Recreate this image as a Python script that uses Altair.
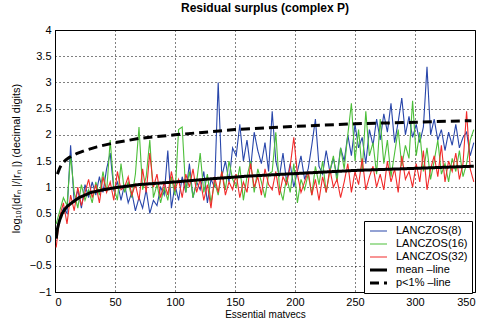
import altair as alt
import pandas as pd

# x grid for the noisy series
X_NOISY = list(range(1, 350, 3))

BLUE = [0.15, 0.35, 0.6, 0.5, 1.8, 0.7, 0.95, 0.6, 1.05, 0.8,
        1.1, 0.85, 1.2, 0.9, 1.35, 1.65, 0.95, 1.1, 0.75, 1.05,
        0.7, 0.9, 0.55, 0.8, 0.6, 0.95, 0.5, 0.75, 0.65, 1.0,
        0.85, 1.7, 0.6, 1.05, 0.75, 1.2, 0.9, 1.45, 0.8, 1.1,
        0.95, 1.3, 0.7, 1.15, 1.0, 3.0, 1.2, 1.5, 1.1, 1.75,
        1.6, 2.2, 1.5, 1.9, 1.35, 2.05, 1.7, 1.45, 1.85, 1.3,
        2.45, 1.5, 1.2, 1.65, 1.1, 1.45, 1.0, 1.3, 1.6, 1.15,
        1.35, 1.8, 2.3, 1.4, 1.25, 1.7, 1.3, 1.55, 1.2, 1.75,
        1.5, 2.0, 1.6, 2.2, 1.75, 1.95, 1.45, 2.1, 1.8, 2.3,
        1.9, 2.4, 2.05, 2.6, 1.85, 2.25, 2.7, 2.0, 2.35, 1.95,
        2.2, 1.85, 2.15, 3.3, 2.0, 2.3, 1.9, 2.1, 1.7, 2.05,
        1.8, 2.2, 1.75, 1.95, 2.05, 1.6, 1.85]

GREEN = [0.3, 0.55, 0.8, 0.65, 1.6, 0.9, 0.6, 1.05, 0.75, 0.95,
         0.7, 1.1, 0.85, 1.3, 0.9, 1.9, 1.0, 0.75, 1.45, 0.9,
         1.1, 0.8, 1.25, 2.15, 0.95, 1.2, 1.9, 0.8, 1.05, 0.7,
         1.0, 0.75, 1.2, 0.85, 2.1, 2.15, 0.9, 1.3, 0.8, 1.1,
         1.65, 0.9, 1.25, 0.7, 1.1, 0.85, 1.3, 0.95, 1.5, 1.15,
         1.0, 1.4, 0.75, 1.2, 1.5, 0.9, 1.35, 1.1, 0.8, 1.25,
         1.3, 2.05, 1.0, 0.75, 1.2, 0.9, 1.45, 0.7, 1.15, 0.95,
         1.25, 0.85, 1.4, 1.05, 1.5, 0.9, 1.3, 1.6, 1.1, 1.75,
         1.35, 2.0, 2.6, 1.5, 2.1, 1.3, 2.45, 1.6, 1.85, 1.25,
         2.3, 1.45, 1.9, 1.2, 1.65, 2.1, 1.4, 1.8, 1.55, 2.65,
         1.6, 2.05, 1.3, 1.75, 1.15, 1.5, 1.9, 1.25, 1.45, 1.1,
         1.55, 1.3, 1.7, 1.2, 1.45, 1.9, 2.1]

RED = [-0.15, 0.45, 0.7, 0.3, 0.85, 0.55, 1.0, 0.65, 0.9, 1.15,
       0.8, 1.05, 0.7, 1.2, 0.9, 1.1, 0.75, 1.3, 0.95, 1.0,
       1.2, 0.85, 1.05, 0.75, 1.35, 0.9, 1.65, 1.0, 1.25, 0.8,
       1.1, 0.85, 1.3, 0.95, 1.15, 0.8, 1.25, 1.0, 1.35, 0.9,
       1.15, 0.75, 1.05, 0.6, 1.2, 0.9, 1.3, 0.85, 1.1, 0.95,
       1.25, 0.8, 1.1, 0.9, 1.45, 1.0, 1.2, 0.85, 1.35, 1.05,
       0.95, 1.3, 0.85, 1.2, 1.05, 1.4, 1.95, 1.25, 0.9, 1.1,
       1.3, 0.85, 1.15, 0.75, 1.2, 0.9, 1.35, 1.0, 1.15, 0.8,
       1.1, 1.45, 0.9, 1.3, 1.05, 1.55, 0.95, 1.2, 1.4, 1.0,
       1.25, 0.95, 1.5, 1.1, 1.35, 0.9, 1.6, 1.15, 1.3, 1.0,
       1.45, 1.1, 1.7, 0.95, 1.35, 1.6, 1.2, 1.8, 1.1, 1.5,
       1.3, 1.65, 1.15, 1.45, 2.45, 1.35, 1.1]

MEAN_X = [1, 2, 3, 4, 6, 8, 10, 15, 20, 30, 40, 50, 70, 100, 130, 160, 200, 250, 300, 349]
MEAN_Y = [0.02, 0.2, 0.3, 0.38, 0.5, 0.57, 0.63, 0.72, 0.8, 0.9, 0.95, 0.99, 1.05,
          1.10, 1.16, 1.21, 1.26, 1.32, 1.36, 1.40]

P1_X = [2, 4, 6, 9, 12, 18, 25, 35, 50, 70, 100, 130, 150, 200, 250, 300, 347]
P1_Y = [1.25, 1.37, 1.45, 1.52, 1.57, 1.64, 1.7, 1.77, 1.85, 1.93, 2.0, 2.06, 2.1,
        2.16, 2.21, 2.24, 2.27]

SERIES = ["LANCZOS(8)", "LANCZOS(16)", "LANCZOS(32)", "mean \u2013line", "p<1% \u2013line"]
COLORS = ["#2846aa", "#4dbf3a", "#f22a2a", "#000000", "#000000"]
DASHES = [[1, 0], [1, 0], [1, 0], [1, 0], [9, 5]]
WIDTHS = [1.1, 1.1, 1.1, 3, 3]

rows = []
for name, xs, ys in [(SERIES[0], X_NOISY, BLUE), (SERIES[1], X_NOISY, GREEN),
                     (SERIES[2], X_NOISY, RED), (SERIES[3], MEAN_X, MEAN_Y),
                     (SERIES[4], P1_X, P1_Y)]:
    for i, (xv, yv) in enumerate(zip(xs, ys)):
        rows.append({"x": xv, "y": yv, "series": name, "order": i})
df = pd.DataFrame(rows)

leg = alt.Legend(
    title=None, orient="none", legendX=309, legendY=191,
    symbolType="stroke", symbolSize=290, clipHeight=12, labelFontSize=11,
    labelFont="Liberation Sans", labelColor="#000000",
    strokeColor="#000000", fillColor="#ffffff", padding=4,
    rowPadding=1, labelOffset=7,
)

chart = alt.Chart(df).mark_line(clip=True).encode(
    x=alt.X("x:Q", scale=alt.Scale(domain=[0, 350], nice=False),
            axis=alt.Axis(values=list(range(0, 351, 50)), title="Essential matvecs",
                          titlePadding=2)),
    y=alt.Y("y:Q", scale=alt.Scale(domain=[-1, 4], nice=False),
            axis=alt.Axis(values=[-1, -0.5, 0, 0.5, 1, 1.5, 2, 2.5, 3, 3.5, 4],
                          format="~g",
                          title="log\u2081\u2080(|dr\u2099 |/|r\u2099 |)           (decimal digits)",
                          titleX=-34, titleY=128, titleFontSize=11)),
    color=alt.Color("series:N", scale=alt.Scale(domain=SERIES, range=COLORS), legend=leg),
    strokeDash=alt.StrokeDash("series:N", scale=alt.Scale(type="ordinal", domain=SERIES, range=DASHES), legend=leg),
    strokeWidth=alt.StrokeWidth("series:N", scale=alt.Scale(type="ordinal", domain=SERIES, range=WIDTHS), legend=leg),
    order="order:Q",
).properties(
    width=420, height=262,
    title=alt.TitleParams("Residual surplus (complex P)", fontSize=12, fontWeight="bold",
                          font="Liberation Sans", anchor="middle", offset=9),
    autosize=alt.AutoSizeParams(type="none"),
    padding={"left": 55, "top": 30, "right": 7, "bottom": 28},
).configure_view(
    stroke="#000000", strokeWidth=1
).configure_axis(
    grid=True, gridColor="#000000", gridDash=[1, 3], gridOpacity=1, gridWidth=1,
    domain=True, domainColor="#000000", ticks=False, labelPadding=4,
    labelFont="Liberation Sans", labelFontSize=11, labelColor="#000000",
    titleFont="Liberation Sans", titleFontSize=10, titleFontWeight="normal",
    titleColor="#000000",
)

chart.save("out.html", embed_options={"renderer": "svg", "actions": False})
